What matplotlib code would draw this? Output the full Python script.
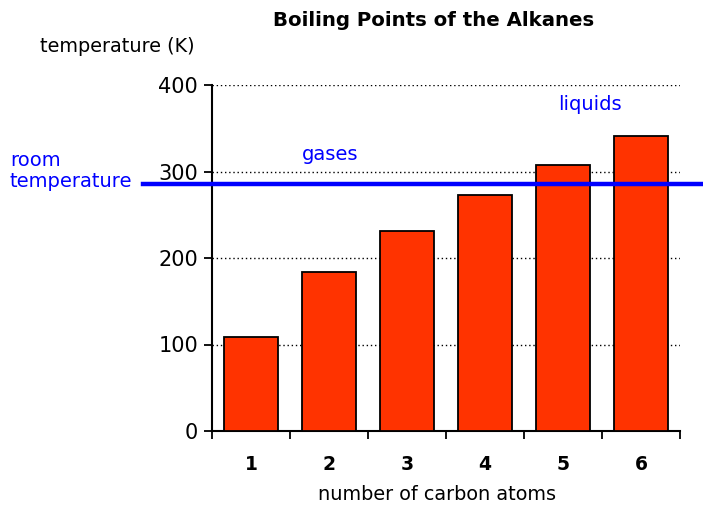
import matplotlib
matplotlib.use("Agg")
import matplotlib.pyplot as plt

plt.rcParams['font.family'] = ['DejaVu Sans']

carbons = ['1', '2', '3', '4', '5', '6']
boiling_points = [109, 184, 231, 273, 308, 341]
room_temp = 285
y_ticks = [0, 100, 200, 300, 400]

fig = plt.figure(figsize=(7.03, 5.07), dpi=100)
W, H = 703, 507
ax = fig.add_axes([212 / W, 1 - 431 / H, (680 - 212) / W, (431 - 85) / H])

x = list(range(len(carbons)))
ax.bar(x, boiling_points, width=0.69, color='#FF3300', edgecolor='black', linewidth=1.3, zorder=3)
ax.set_xlim(-0.5, len(carbons) - 0.5)
ax.set_ylim(0, 400)

for v in y_ticks[1:]:
    ax.axhline(v, color='black', linestyle=(0, (1, 2)), linewidth=1.0, zorder=1)

ax.set_yticks(y_ticks)
ax.set_yticklabels([str(v) for v in y_ticks], fontsize=15)
ax.set_xticks([i - 0.5 for i in range(len(carbons) + 1)])
ax.set_xticklabels([])
ax.set_xticks(x, minor=True)
ax.set_xticklabels(carbons, minor=True, fontsize=13.5, fontweight='bold')
ax.tick_params(axis='x', which='minor', length=0, pad=17)
ax.tick_params(axis='x', which='major', length=6, width=1.3, direction='out')
ax.tick_params(axis='y', length=6, width=1.3, direction='out', pad=4)

for s in ['top', 'right']:
    ax.spines[s].set_visible(False)
for s in ['left', 'bottom']:
    ax.spines[s].set_linewidth(1.5)

ax_w = 680 - 212
ax.axhline(room_temp, xmin=(143 - 212) / ax_w, xmax=(703 - 212) / ax_w,
           color='#0000FF', linewidth=3.2, clip_on=False, zorder=4)

fig.text(434 / W, 1 - 20 / H, 'Boiling Points of the Alkanes', ha='center', va='center',
         fontsize=14.2, fontweight='bold')
fig.text(40 / W, 1 - 47 / H, 'temperature (K)', ha='left', va='center', fontsize=13.9)
fig.text(437 / W, 1 - 495 / H, 'number of carbon atoms', ha='center', va='center', fontsize=13.9)
fig.text(10 / W, 1 - 171 / H, 'room\ntemperature', ha='left', va='center', fontsize=14,
         color='#0000FF', linespacing=1.12)
fig.text(330 / W, 1 - 155 / H, 'gases', ha='center', va='center', fontsize=14, color='#0000FF')
fig.text(590 / W, 1 - 105 / H, 'liquids', ha='center', va='center', fontsize=14, color='#0000FF')

fig.savefig('out.png', dpi=100)
